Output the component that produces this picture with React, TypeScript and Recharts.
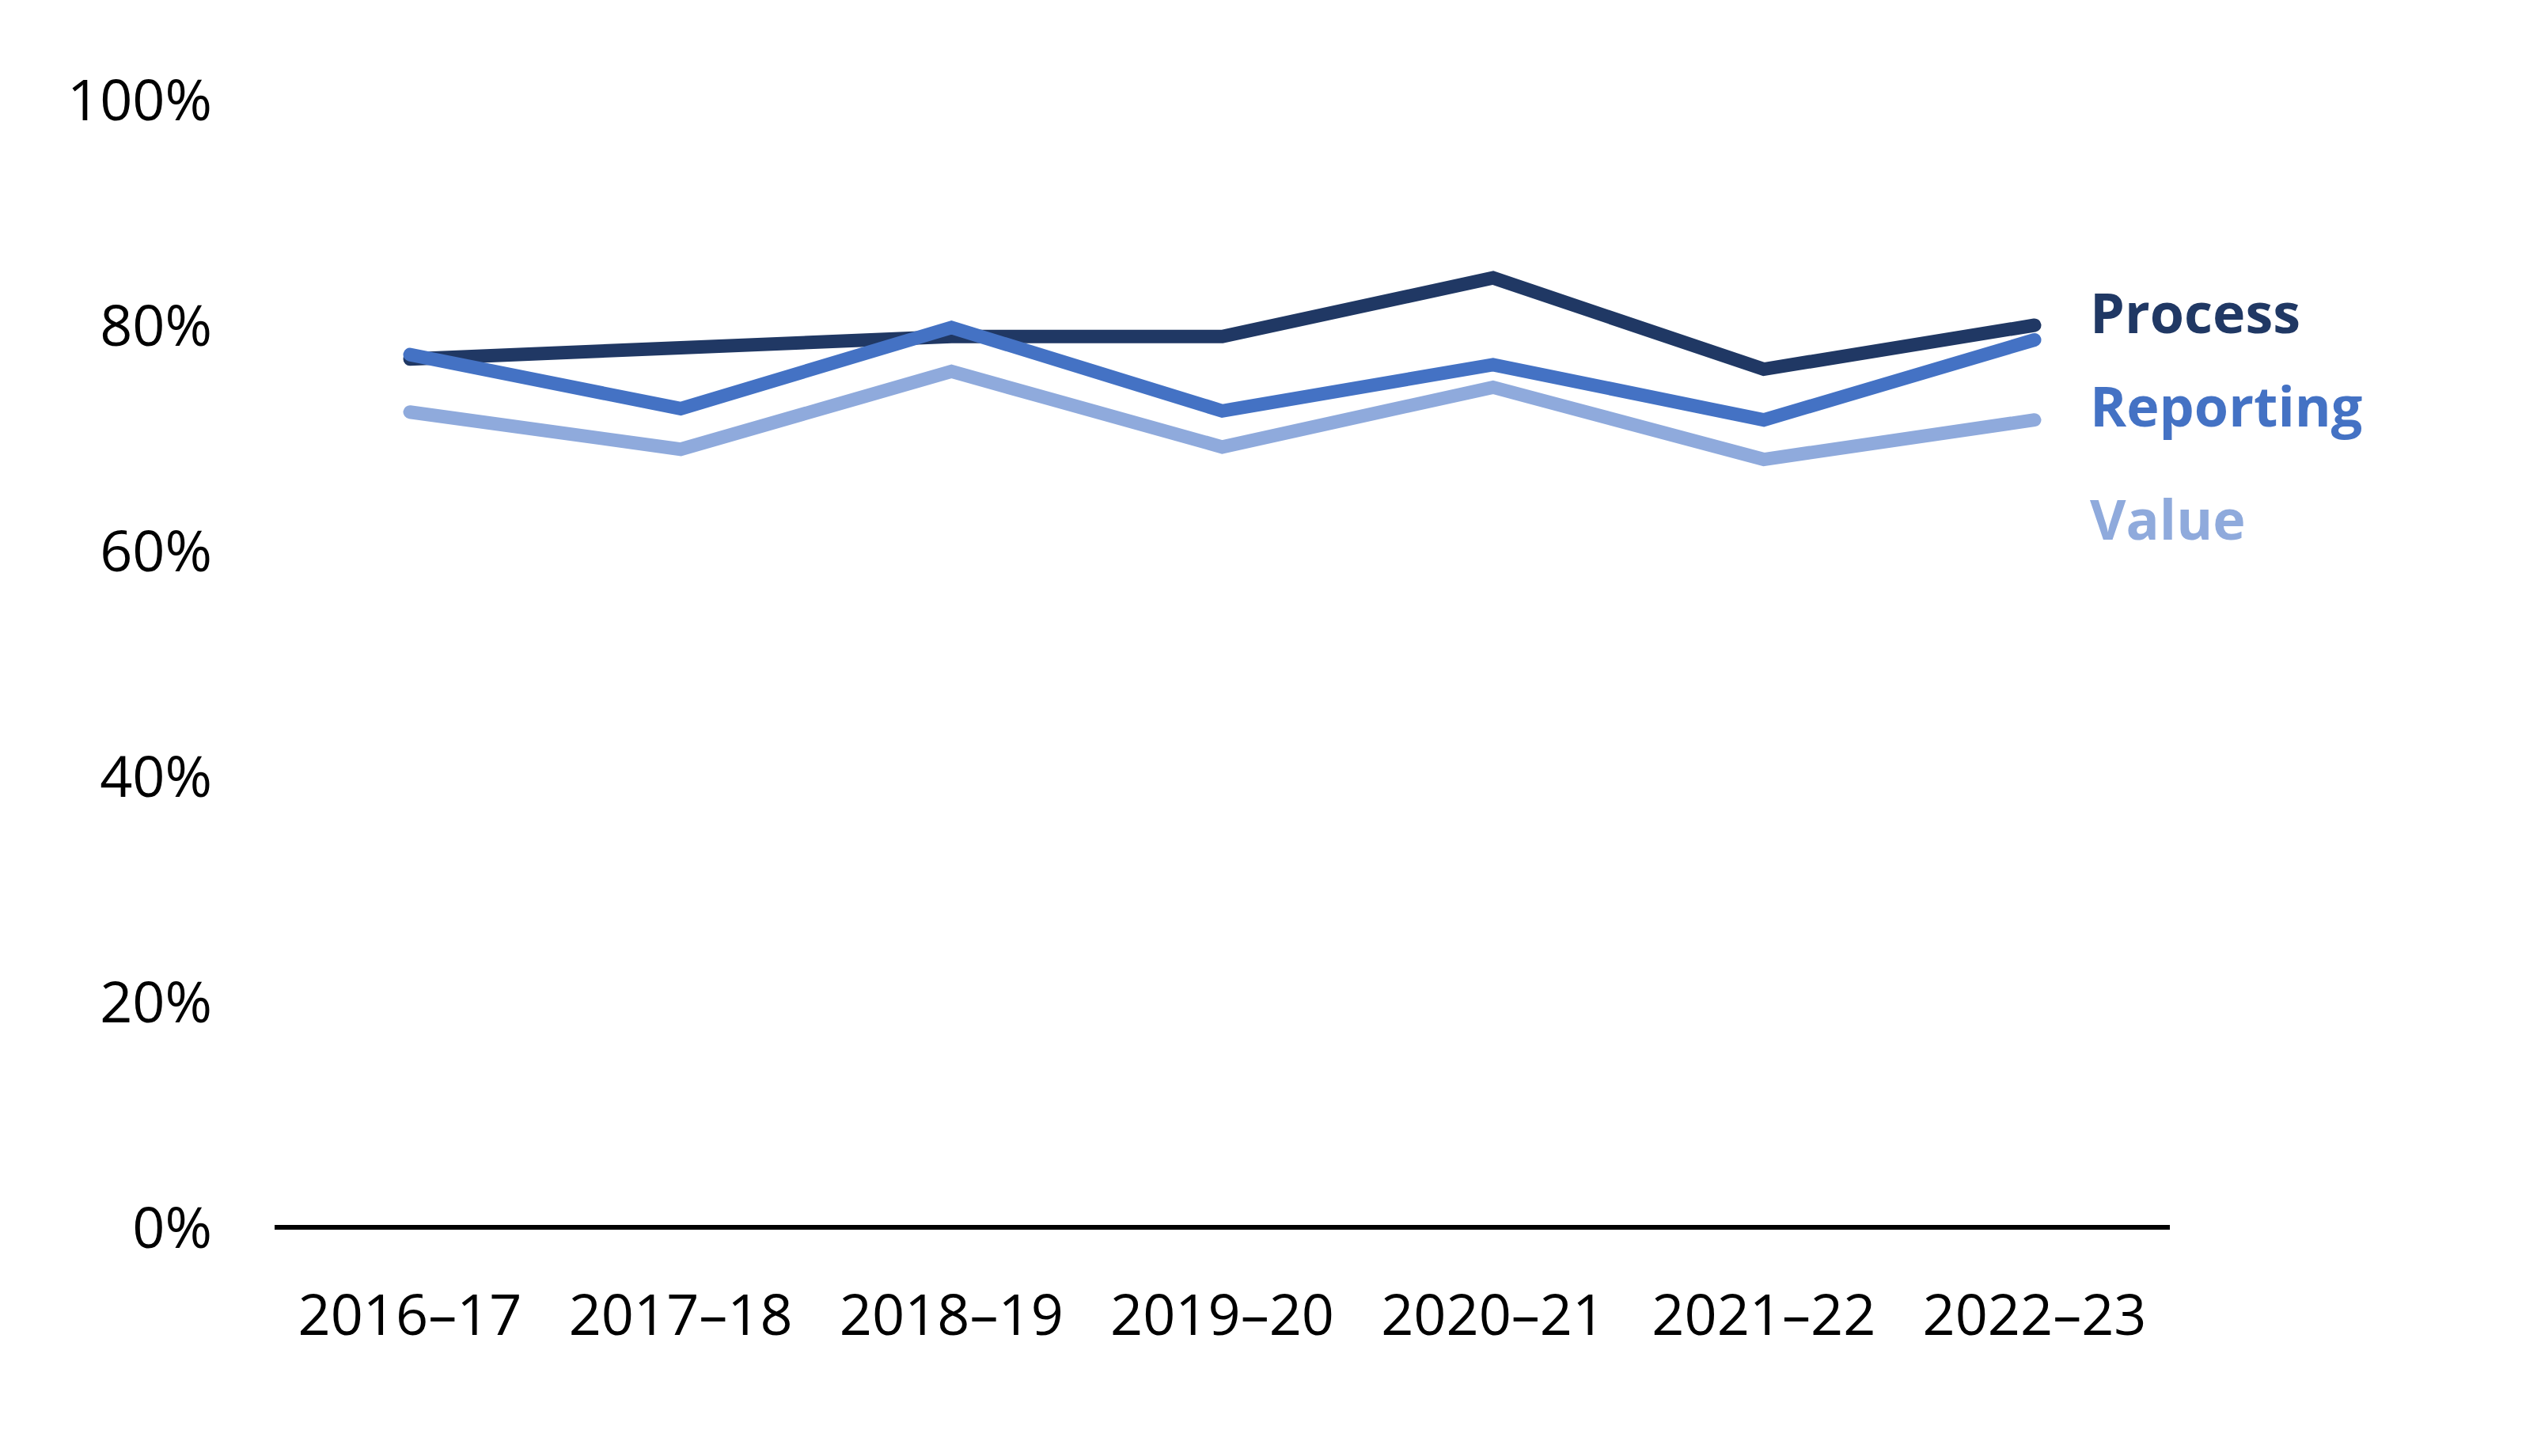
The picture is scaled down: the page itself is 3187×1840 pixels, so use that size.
import { LineChart, Line, XAxis, YAxis, LabelList } from "recharts";

const years = ["2016–17", "2017–18", "2018–19", "2019–20", "2020–21", "2021–22", "2022–23"];
const process = [77, 78, 79, 79, 84.2, 76.1, 80];
const reporting = [77.4, 72.6, 79.8, 72.4, 76.5, 71.6, 78.7];
const value = [72.3, 69, 75.9, 69.2, 74.5, 68.1, 71.6];
const yTicks = [0, 20, 40, 60, 80, 100];

const data = years.map((year, i) => ({
  year,
  Process: process[i],
  Reporting: reporting[i],
  Value: value[i],
}));

const FONT = "'Open Sans', 'Noto Sans', sans-serif";

// series style + where its end label sits relative to the last point
const series = [
  { key: "Process", color: "#203864", dy: -15 },
  { key: "Reporting", color: "#4472C4", dy: 84 },
  { key: "Value", color: "#8FAADC", dy: 126 },
];

const endLabel = (name: string, color: string, dy: number) => (props: any) => {
  const { x, y, index } = props;
  if (index !== years.length - 1) return null;
  return (
    <text
      x={x + 70}
      y={y + dy}
      dy="0.36em"
      fill={color}
      fontFamily={FONT}
      fontWeight={700}
      fontSize={70}
    >
      {name}
    </text>
  );
};

export default function App() {
  return (
    <LineChart
      width={3171}
      height={1824}
      data={data}
      margin={{ top: 118, right: 437, bottom: 131, left: 0 }}
    >
      <XAxis
        dataKey="year"
        height={150}
        padding={{ left: 171, right: 171 }}
        axisLine={{ stroke: "#000", strokeWidth: 6 }}
        tickLine={false}
        tickSize={0}
        tickMargin={85}
        tick={{ fill: "#000", fontSize: 72, fontFamily: FONT }}
        interval={0}
      />
      <YAxis
        width={339}
        domain={[0, 100]}
        ticks={yTicks}
        tickFormatter={(v) => `${v}%`}
        axisLine={false}
        tickLine={false}
        tickSize={0}
        tickMargin={79}
        tick={{ fill: "#000", fontSize: 72, fontFamily: FONT }}
      />
      {series.map((s) => (
        <Line
          key={s.key}
          type="linear"
          dataKey={s.key}
          stroke={s.color}
          strokeWidth={17}
          strokeLinecap="round"
          strokeLinejoin="miter"
          dot={false}
          activeDot={false}
          isAnimationActive={false}
        >
          <LabelList dataKey={s.key} content={endLabel(s.key, s.color, s.dy)} />
        </Line>
      ))}
    </LineChart>
  );
}
